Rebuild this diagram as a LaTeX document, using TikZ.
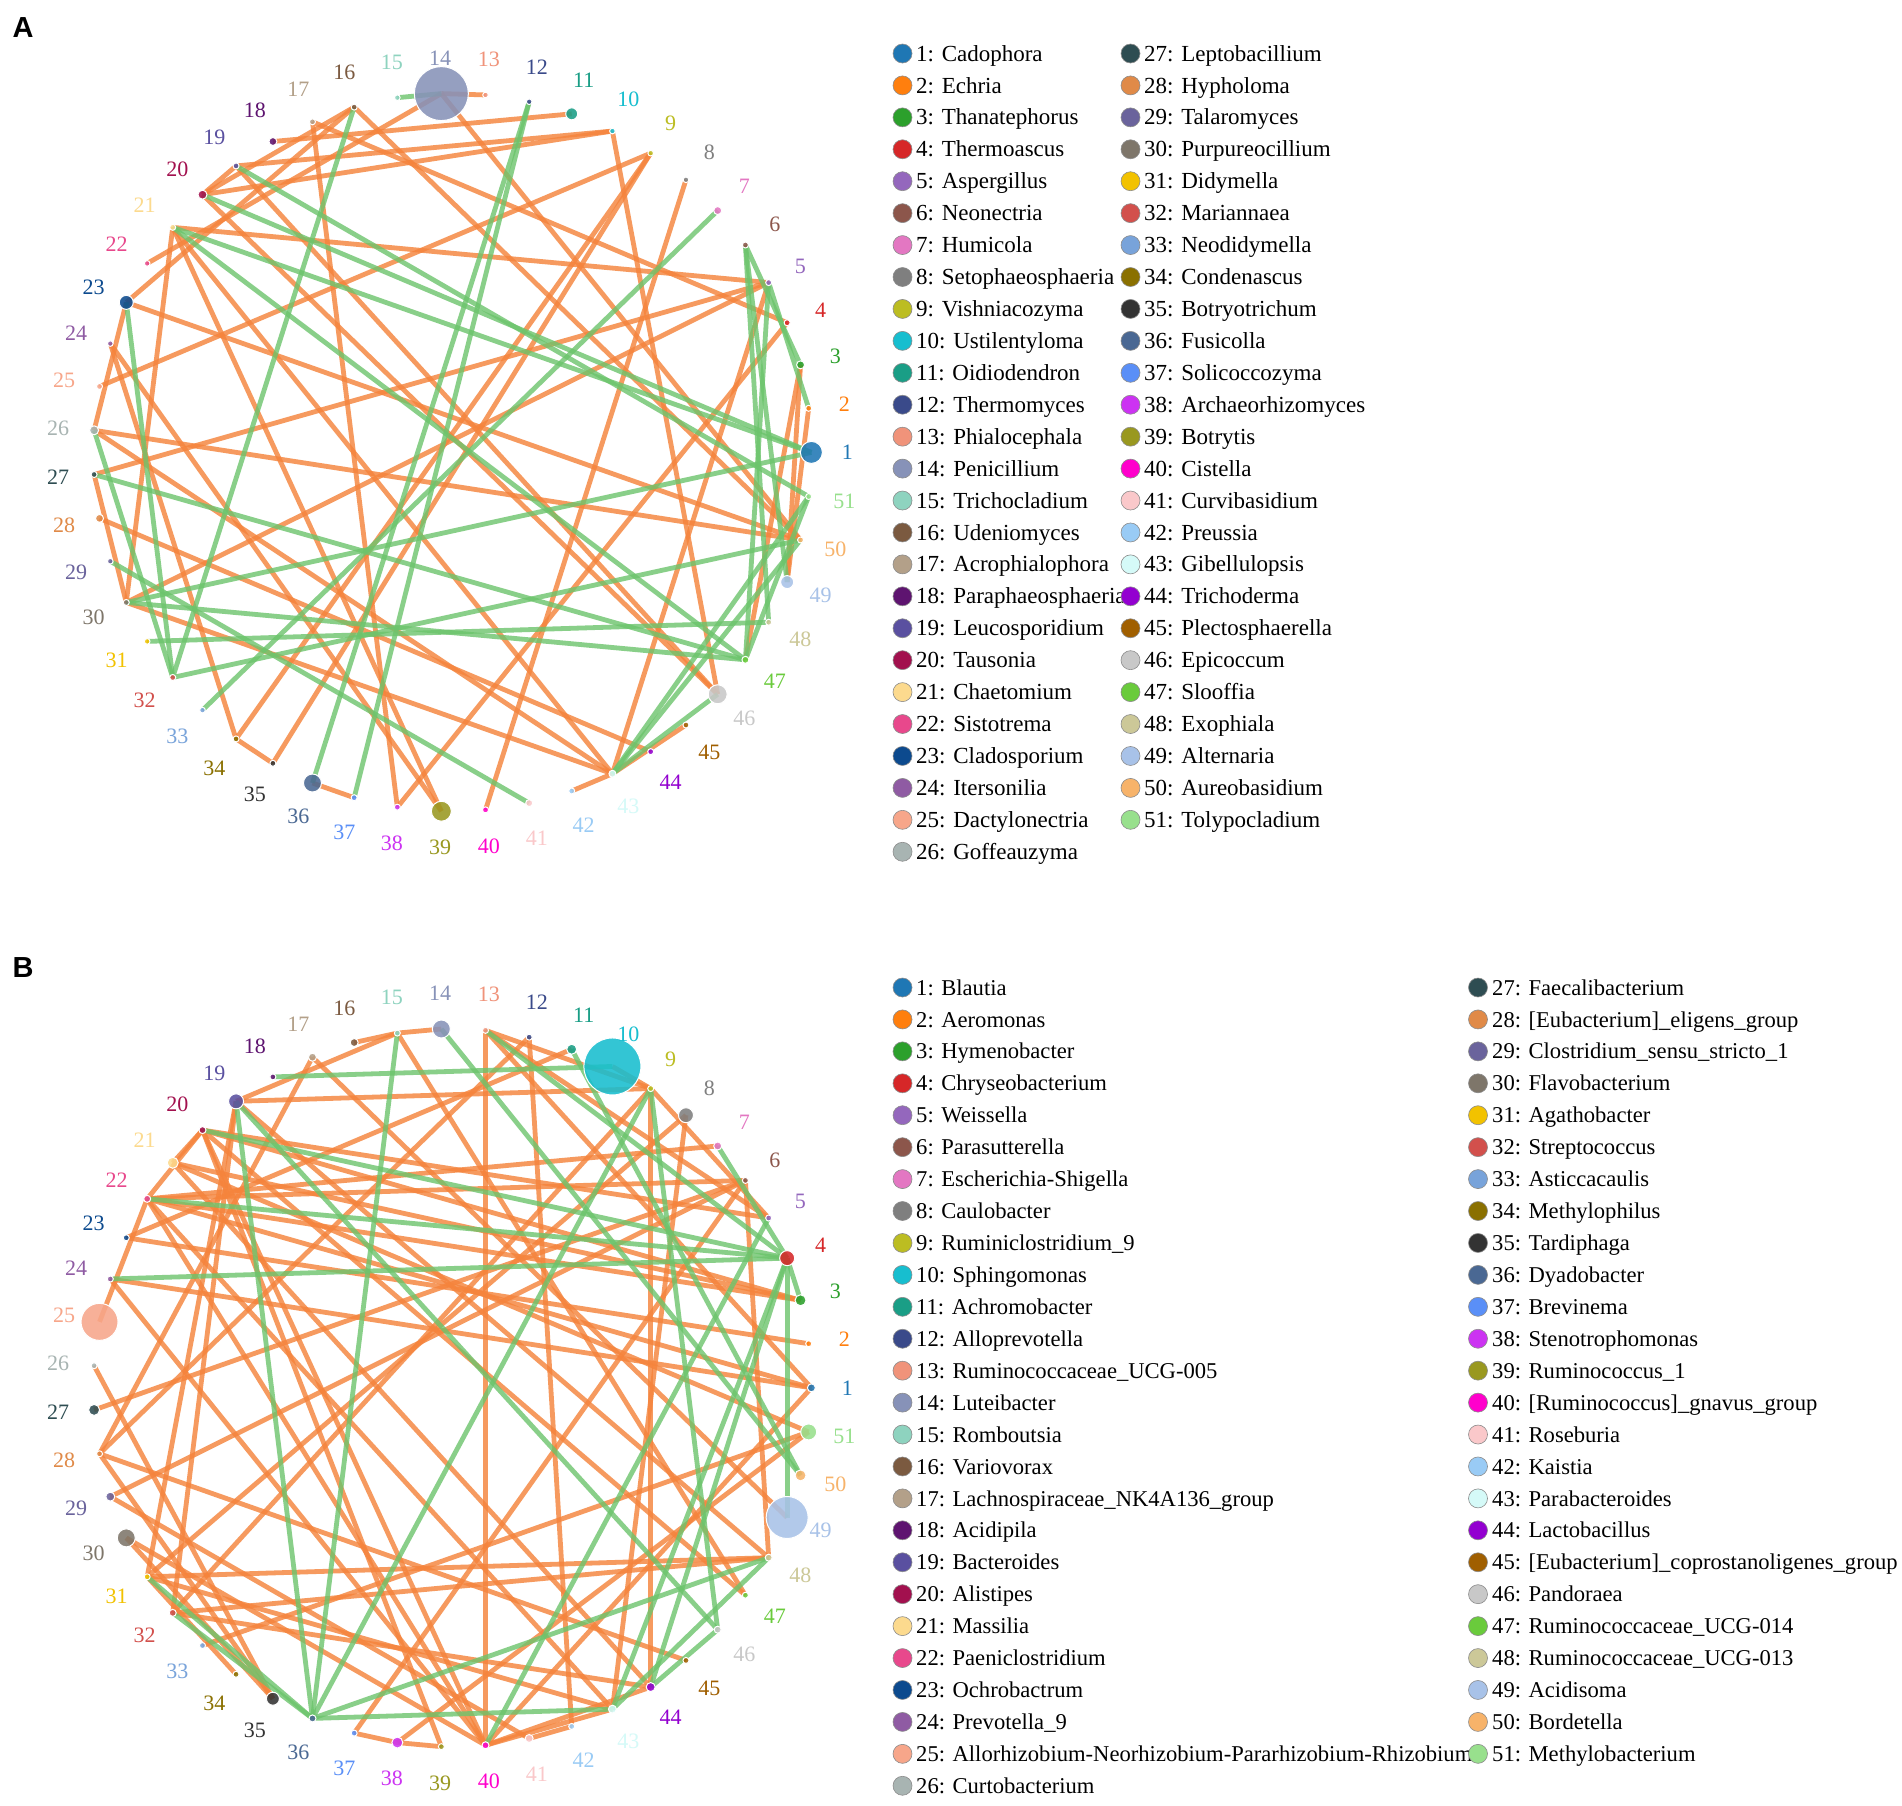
\documentclass[tikz,border=0pt]{standalone}
\usepackage{fontspec}
\setmainfont{Liberation Serif}
\newfontfamily\netserif{Liberation Serif}
\newfontfamily\panelfont{Liberation Sans}
\definecolor{c1}{HTML}{1F77B4}\definecolor{c2}{HTML}{FF7F0E}\definecolor{c3}{HTML}{2CA02C}
\definecolor{c4}{HTML}{D62728}\definecolor{c5}{HTML}{9467BD}\definecolor{c6}{HTML}{8C564B}
\definecolor{c7}{HTML}{E377C2}\definecolor{c8}{HTML}{7F7F7F}\definecolor{c9}{HTML}{BCBD22}
\definecolor{c10}{HTML}{17BECF}\definecolor{c11}{HTML}{1A9E86}\definecolor{c12}{HTML}{3A4A8A}
\definecolor{c13}{HTML}{F0937A}\definecolor{c14}{HTML}{8792B8}\definecolor{c15}{HTML}{8ED3BF}
\definecolor{c16}{HTML}{7B5A40}\definecolor{c17}{HTML}{B3A089}\definecolor{c18}{HTML}{5E1470}
\definecolor{c19}{HTML}{5A50A0}\definecolor{c20}{HTML}{A2104E}\definecolor{c21}{HTML}{FCDA8E}
\definecolor{c22}{HTML}{E8488C}\definecolor{c23}{HTML}{0C4A8E}\definecolor{c24}{HTML}{8F5BA3}
\definecolor{c25}{HTML}{F7A68A}\definecolor{c26}{HTML}{A8B4B2}\definecolor{c27}{HTML}{2E4D52}
\definecolor{c28}{HTML}{E08A48}\definecolor{c29}{HTML}{6A639C}\definecolor{c30}{HTML}{7E766A}
\definecolor{c31}{HTML}{F2C200}\definecolor{c32}{HTML}{D2504C}\definecolor{c33}{HTML}{78A3DA}
\definecolor{c34}{HTML}{8A7000}\definecolor{c35}{HTML}{333333}\definecolor{c36}{HTML}{4A6893}
\definecolor{c37}{HTML}{5A8FF7}\definecolor{c38}{HTML}{CC33F2}\definecolor{c39}{HTML}{999820}
\definecolor{c40}{HTML}{FF00CC}\definecolor{c41}{HTML}{FAC8CA}\definecolor{c42}{HTML}{99CBF5}
\definecolor{c43}{HTML}{D5FAF8}\definecolor{c44}{HTML}{9300D0}\definecolor{c45}{HTML}{A05F00}
\definecolor{c46}{HTML}{C8C8C8}\definecolor{c47}{HTML}{6ACB3C}\definecolor{c48}{HTML}{CCC898}
\definecolor{c49}{HTML}{A8C2E8}\definecolor{c50}{HTML}{F7B36A}\definecolor{c51}{HTML}{98E08D}
\definecolor{eorange}{HTML}{F5843C}
\definecolor{egreen}{HTML}{6CC46C}
\begin{document}
\begin{tikzpicture}[x=1pt,y=-1pt,
  oedge/.style={draw=eorange, line width=4.8pt, draw opacity=0.82},
  gedge/.style={draw=egreen, line width=4.8pt, draw opacity=0.8},
  netnode/.style={circle, inner sep=0pt, draw=white, line width=1pt, fill opacity=0.88},
  numlab/.style={inner sep=0pt, text height=14.9pt, text depth=0pt, font={\netserif\fontsize{22}{24}\selectfont}},
  legtext/.style={anchor=west, inner sep=0pt, text height=15.2pt, text depth=0pt, font={\netserif\fontsize{23}{26}\selectfont}},
  legtextb/.style={legtext, font={\netserif\fontsize{22.6}{26}\selectfont}},
  legdot/.style={circle, inner sep=0pt, minimum size=19pt, draw=black!45, line width=0.6pt},
  panellab/.style={inner sep=0pt, font={\panelfont\bfseries\fontsize{29}{30}\selectfont}}]
\path[use as bounding box] (0,0) rectangle (1902,1805);
\fill[white] (0,0) rectangle (1902,1805);
% positions
\foreach \k in {1,...,51}{
  \pgfmathsetmacro\th{(\k-1)*7.0588235}
  \pgfmathsetmacro\cc{cos(\th)}
  \pgfmathsetmacro\ss{sin(\th)}
  \pgfmathsetmacro\px{452.4+359*\cc}
  \pgfmathsetmacro\pya{452.4-359*\ss}
  \pgfmathsetmacro\pyb{1387.8-359*\ss}
  \pgfmathsetmacro\lx{452.4+395*\cc}
  \pgfmathsetmacro\lya{452.4-395*\ss}
  \pgfmathsetmacro\lyb{1387.8-395*\ss}
  \coordinate (A\k) at (\px,\pya);
  \coordinate (B\k) at (\px,\pyb);
  \coordinate (AL\k) at (\lx,\lya);
  \coordinate (BL\k) at (\lx,\lyb);
}
% ---------- panel A edges
\foreach \a/\b in {13/14,18/11,19/10,20/10,19/20,16/20,16/23,16/50,17/38,17/4,14/22,10/46,9/25,9/35,9/34,8/40,5/21,5/27,5/30,5/43,4/38,3/49,3/47,2/49,21/39,24/39,24/34,36/37,42/43,43/45,21/43,26/43,30/43,23/50,26/50,21/30,27/30,34/35,28/44,20/46,19/46,14/50,23/26}
  \draw[oedge] (A\a) -- (A\b);
\foreach \a/\b in {14/15,16/32,23/32,26/32,7/33,12/36,12/37,5/47,6/48,6/49,6/3,5/2,19/51,20/1,21/1,21/47,27/47,29/41,30/1,30/47,31/48,32/50,43/46,43/50,43/51,47/51}
  \draw[gedge] (A\a) -- (A\b);
% ---------- panel B edges
\foreach \a/\b in {14/15,15/16,15/19,19/9,19/32,19/31,19/48,20/21,20/5,22/25,22/6,22/3,22/1,22/40,22/43,23/11,24/1,13/40,13/9,13/1,13/5,12/42,12/28,10/9,9/44,9/5,8/43,7/22,17/28,15/47,27/6,29/6,29/41,30/40,30/35,31/48,31/8,31/43,31/34,32/48,32/44,32/9,33/51,35/28,37/38,37/6,38/39,38/51,39/20,40/24,40/43,40/44,48/6,20/47,20/40,20/3,21/3,26/35,23/2,44/21,45/28,17/49,21/51,20/22,40/1,41/42}
  \draw[oedge] (B\a) -- (B\b);
\foreach \a/\b in {15/36,19/36,19/46,18/10,20/4,22/4,24/4,14/50,13/4,9/36,9/46,7/4,31/36,32/36,36/48,36/43,40/5,43/48,44/46,50/11,49/4,3/4,4/44,4/43}
  \draw[gedge] (B\a) -- (B\b);
% ---------- nodes A
\foreach \k/\r in {1/11,2/3,3/4,4/3,5/3,6/3,7/4,8/2.8,9/2.8,10/2.8,11/6,12/2.8,13/2.8,14/27,15/2.8,16/3,17/3,18/4,19/3,20/4.5,21/3,22/2.8,23/7,24/2.8,25/3,26/4.5,27/3,28/4,29/2.8,30/3,31/2.8,32/3,33/2.8,34/3,35/3,36/9,37/3,38/3,39/10,40/3,41/3.5,42/3,43/3.5,44/3,45/3,46/9.5,47/3.5,48/3,49/6.5,50/3,51/3}{
  \pgfmathsetmacro\dd{2*\r}
  \node[netnode, fill=c\k, minimum size=\dd pt] (An\k) at (A\k) {};
  \node[numlab, text=c\k] (Al\k) at (AL\k) {\k};
}
% ---------- nodes B
\foreach \k/\r in {1/4,2/3,3/5.5,4/7.5,5/3,6/3,7/4,8/7.5,9/3,10/28.5,11/5,12/3,13/3,14/9,15/3,16/4,17/4,18/3,19/7.5,20/3.5,21/5.5,22/3.5,23/3,24/3,25/18.5,26/3,27/5.5,28/3,29/4.5,30/9,31/3,32/3.5,33/3,34/3,35/6.5,36/3.5,37/3,38/5.5,39/3,40/3.5,41/4,42/3,43/4,44/4.5,45/3,46/3.5,47/3,48/3.5,49/21,50/5.5,51/8}{
  \pgfmathsetmacro\dd{2*\r}
  \node[netnode, fill=c\k, minimum size=\dd pt] (Bn\k) at (B\k) {};
  \node[numlab, text=c\k] (Bl\k) at (BL\k) {\k};
}
% ---------- panel letters
\node[panellab] (labA) at (23,27.5) {A};
\node[panellab] (labB) at (23,968) {B};
% ---------- legend A
\foreach \k/\nm [count=\i] in {1/Cadophora,2/Echria,3/Thanatephorus,4/Thermoascus,5/Aspergillus,6/Neonectria,7/Humicola,8/Setophaeosphaeria,9/Vishniacozyma,10/Ustilentyloma,11/Oidiodendron,12/Thermomyces,13/Phialocephala,14/Penicillium,15/Trichocladium,16/Udeniomyces,17/Acrophialophora,18/Paraphaeosphaeria,19/Leucosporidium,20/Tausonia,21/Chaetomium,22/Sistotrema,23/Cladosporium,24/Itersonilia,25/Dactylonectria,26/Goffeauzyma}{
  \node[legdot, fill=c\k] (Ad\k) at (902.5,{53.5+(\i-1)*31.93}) {};
  \node[legtext] (At\k) at (916,{53.5+(\i-1)*31.93}) {\k: \nm};
}
\foreach \k/\nm [count=\i] in {27/Leptobacillium,28/Hypholoma,29/Talaromyces,30/Purpureocillium,31/Didymella,32/Mariannaea,33/Neodidymella,34/Condenascus,35/Botryotrichum,36/Fusicolla,37/Solicoccozyma,38/Archaeorhizomyces,39/Botrytis,40/Cistella,41/Curvibasidium,42/Preussia,43/Gibellulopsis,44/Trichoderma,45/Plectosphaerella,46/Epicoccum,47/Slooffia,48/Exophiala,49/Alternaria,50/Aureobasidium,51/Tolypocladium}{
  \node[legdot, fill=c\k] (Ad\k) at (1130.5,{53.5+(\i-1)*31.93}) {};
  \node[legtext] (At\k) at (1144,{53.5+(\i-1)*31.93}) {\k: \nm};
}
% ---------- legend B
\foreach \k/\nm [count=\i] in {1/Blautia,2/Aeromonas,3/Hymenobacter,4/Chryseobacterium,5/Weissella,6/Parasutterella,7/Escherichia-Shigella,8/Caulobacter,9/Ruminiclostridium\_9,10/Sphingomonas,11/Achromobacter,12/Alloprevotella,13/Ruminococcaceae\_UCG-005,14/Luteibacter,15/Romboutsia,16/Variovorax,17/Lachnospiraceae\_NK4A136\_group,18/Acidipila,19/Bacteroides,20/Alistipes,21/Massilia,22/Paeniclostridium,23/Ochrobactrum,24/Prevotella\_9,25/Allorhizobium-Neorhizobium-Pararhizobium-Rhizobium,26/Curtobacterium}{
  \node[legdot, fill=c\k] (Bd\k) at (902.5,{987.5+(\i-1)*31.93}) {};
  \node[legtextb] (Bt\k) at (916,{987.5+(\i-1)*31.93}) {\k: \nm};
}
\foreach \k/\nm [count=\i] in {27/Faecalibacterium,28/[Eubacterium]\_eligens\_group,29/Clostridium\_sensu\_stricto\_1,30/Flavobacterium,31/Agathobacter,32/Streptococcus,33/Asticcacaulis,34/Methylophilus,35/Tardiphaga,36/Dyadobacter,37/Brevinema,38/Stenotrophomonas,39/Ruminococcus\_1,40/[Ruminococcus]\_gnavus\_group,41/Roseburia,42/Kaistia,43/Parabacteroides,44/Lactobacillus,45/[Eubacterium]\_coprostanoligenes\_group,46/Pandoraea,47/Ruminococcaceae\_UCG-014,48/Ruminococcaceae\_UCG-013,49/Acidisoma,50/Bordetella,51/Methylobacterium}{
  \node[legdot, fill=c\k] (Bd\k) at (1478,{987.5+(\i-1)*31.93}) {};
  \node[legtextb] (Bt\k) at (1492,{987.5+(\i-1)*31.93}) {\k: \nm};
}
\end{tikzpicture}
\end{document}
